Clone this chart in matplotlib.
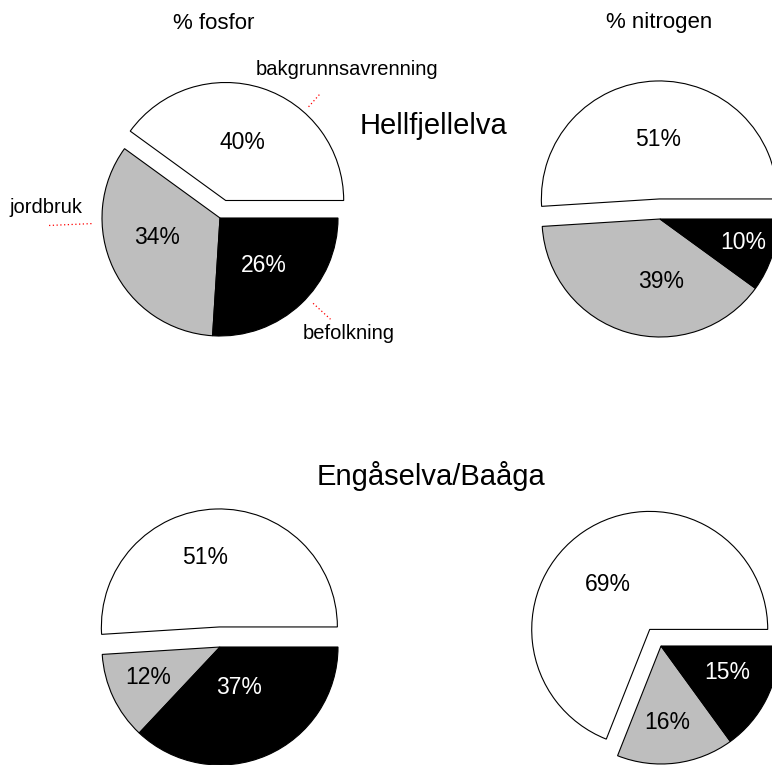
import matplotlib.pyplot as plt
import numpy as np

plt.rcParams['font.family'] = ['Liberation Sans', 'DejaVu Sans']

kilder = ["bakgrunnsavrenning", "jordbruk", "befolkning"]
farger = ["white", "#bebebe", "black"]

hell_fosfor = [40, 34, 26]
hell_nitrogen = [51, 39, 10]
enga_fosfor = [51, 12, 37]
enga_nitrogen = [69, 16, 15]

radius = 118

# pie layout: (values, centre in px with y up, explode of white slice as fraction of radius)
paier = [
    (hell_fosfor, (220, 547), 0.156),
    (hell_nitrogen, (660, 546), 0.17),
    (enga_fosfor, (220, 118), 0.17),
    (enga_nitrogen, (661, 119), 0.17),
]

# where the percent labels sit in each wedge: angle (deg) and distance (in radii)
etikett_vinkel = [[74, 197, 313], [91, 271, 344.5], [102, 203, 295], [133, 275, 338]]
etikett_avstand = [[0.51, 0.56, 0.55], [0.50, 0.53, 0.73],
                   [0.60, 0.66, 0.38], [0.52, 0.65, 0.61]]

# callouts on the first pie: angle (deg), line start/end, text distance (in radii)
callout_vinkel = [48.5, 182.5, -42.5]
callout_linje = [(1.06, 1.20), (1.09, 1.45), (1.07, 1.27)]
callout_tekst = [(47.3, 1.51), (176.7, 1.48), (-41.9, 1.46)]

fig = plt.figure(figsize=(7.72, 7.65), dpi=100)
ax = fig.add_axes([0, 0, 1, 1])

alle_wedges = []
for (verdier, senter, expl), vinkler, avstander in zip(paier, etikett_vinkel, etikett_avstand):
    # pie() takes explode in data units, so scale by the radius
    wedges, _, autotexts = ax.pie(
        verdier, colors=farger, explode=[expl * radius, 0, 0], startangle=0,
        counterclock=True, center=senter, radius=radius,
        autopct=lambda p: f"{p:.0f}%",
        wedgeprops=dict(edgecolor="black", linewidth=0.8),
        textprops=dict(fontsize=16.5))
    for w, t, v, d in zip(wedges, autotexts, vinkler, avstander):
        cx, cy = w.center
        a = np.deg2rad(v)
        t.set_position((cx + d * w.r * np.cos(a), cy + d * w.r * np.sin(a)))
    autotexts[2].set_color("white")
    alle_wedges.append(wedges)

# labels with red dotted leader lines on the first pie
for w, navn, vinkel, (r0, r1), (tv, td) in zip(alle_wedges[0], kilder, callout_vinkel,
                                                 callout_linje, callout_tekst):
    cx, cy = w.center
    a = np.deg2rad(vinkel)
    ax.plot([cx + r0 * w.r * np.cos(a), cx + r1 * w.r * np.cos(a)],
            [cy + r0 * w.r * np.sin(a), cy + r1 * w.r * np.sin(a)],
            color="red", linestyle=(0, (1, 2)), linewidth=0.9)
    b = np.deg2rad(tv)
    ax.text(cx + td * w.r * np.cos(b), cy + td * w.r * np.sin(b), navn,
            ha="center", va="center", fontsize=14.5)

ax.text(214, 736, "% fosfor", ha="center", va="baseline", fontsize=16)
ax.text(659, 737, "% nitrogen", ha="center", va="baseline", fontsize=16)
ax.text(434, 631, "Hellfjellelva", ha="center", va="baseline", fontsize=21)
ax.text(431, 280, "Engåselva/Baåga", ha="center", va="baseline", fontsize=21)

ax.set_aspect("auto")
ax.set_xlim(0, 772)
ax.set_ylim(0, 765)
ax.axis("off")

plt.savefig("out.png", dpi=100)
plt.close()
